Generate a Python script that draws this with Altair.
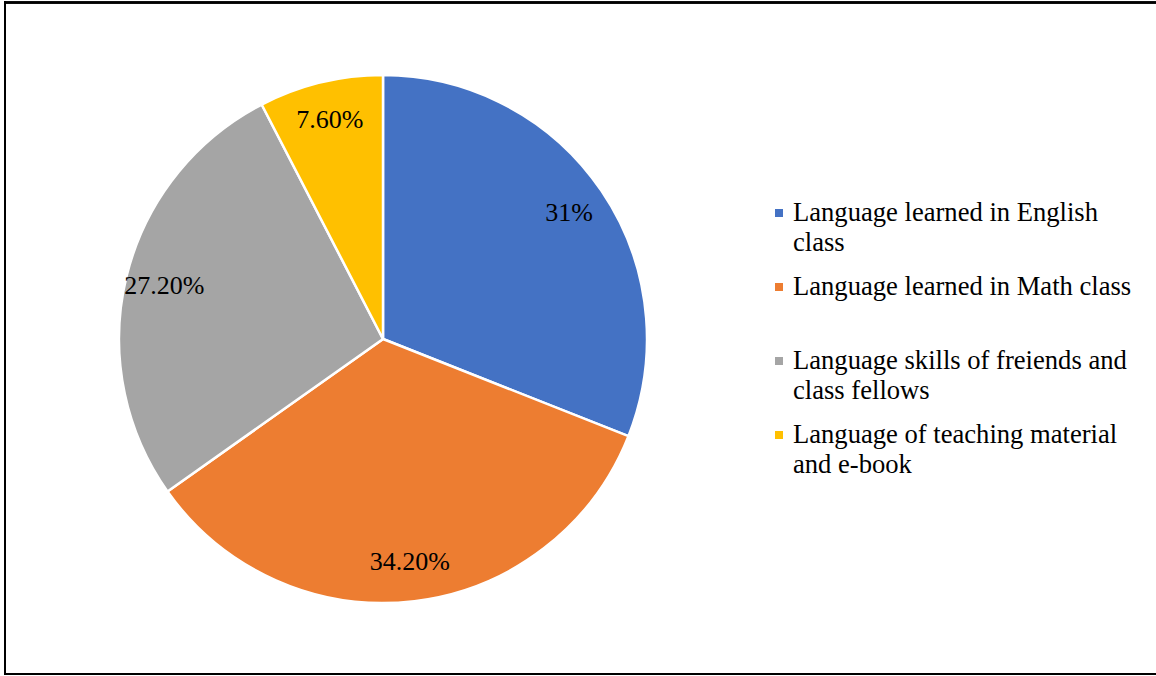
import altair as alt
import pandas as pd

categories = [
    "Language learned in English|class",
    "Language learned in Math class",
    "Language skills of freiends and|class fellows",
    "Language of teaching material|and e-book",
]
values = [31.0, 34.2, 27.2, 7.6]
labels = ["31%", "34.20%", "27.20%", "7.60%"]
colors = ["#4472C4", "#ED7D31", "#A5A5A5", "#FFC000"]

df = pd.DataFrame({
    "category": categories,
    "value": values,
    "label": labels,
    "order": list(range(len(categories))),
})

FONT = "Liberation Serif, Times New Roman, serif"
CX, CY, R = 383, 339, 264

color = alt.Color(
    "category:N",
    sort=categories,
    scale=alt.Scale(domain=categories, range=colors),
    legend=None,
)

base = alt.Chart(df)

pie = base.mark_arc(outerRadius=R, stroke="white", strokeWidth=2.5).encode(
    theta=alt.Theta("value:Q", stack=True),
    color=color,
    order=alt.Order("order:Q"),
    x=alt.value(CX),
    y=alt.value(CY),
)

text = base.mark_text(radius=225, font=FONT, fontSize=26, color="black").encode(
    theta=alt.Theta("value:Q", stack=True),
    text="label:N",
    order=alt.Order("order:Q"),
    x=alt.value(CX),
    y=alt.value(CY),
)

legend_y = alt.Y(
    "category:N",
    sort=categories,
    scale=alt.Scale(domain=categories, range=[213, 435], padding=0),
    axis=None,
)

legend_sym = base.mark_square(size=64, opacity=1).encode(
    x=alt.value(779),
    y=legend_y,
    color=color,
)

legend_txt = base.mark_text(
    font=FONT, fontSize=26.6, color="black", align="left",
    baseline="line-top", lineHeight=30, dy=-15, lineBreak="|",
).encode(
    x=alt.value(793),
    y=legend_y,
    text="category:N",
)

frame_left = alt.Chart(df).mark_rule(color="black", strokeWidth=2).encode(
    x=alt.value(5), y=alt.value(1.5), y2=alt.value(675)
)
frame_top = alt.Chart(df).mark_rule(color="black", strokeWidth=2).encode(
    x=alt.value(4), x2=alt.value(1160), y=alt.value(2.5)
)
frame_bottom = alt.Chart(df).mark_rule(color="black", strokeWidth=2).encode(
    x=alt.value(4), x2=alt.value(1160), y=alt.value(674)
)

chart = alt.layer(
    pie, text, legend_sym, legend_txt, frame_left, frame_top, frame_bottom
).properties(
    width=1156,
    height=676,
    padding=0,
    autosize=alt.AutoSizeParams(type="none"),
).configure_view(stroke=None).configure_text(font=FONT)

chart.save("out.html", embed_options={"renderer": "svg", "actions": False})
